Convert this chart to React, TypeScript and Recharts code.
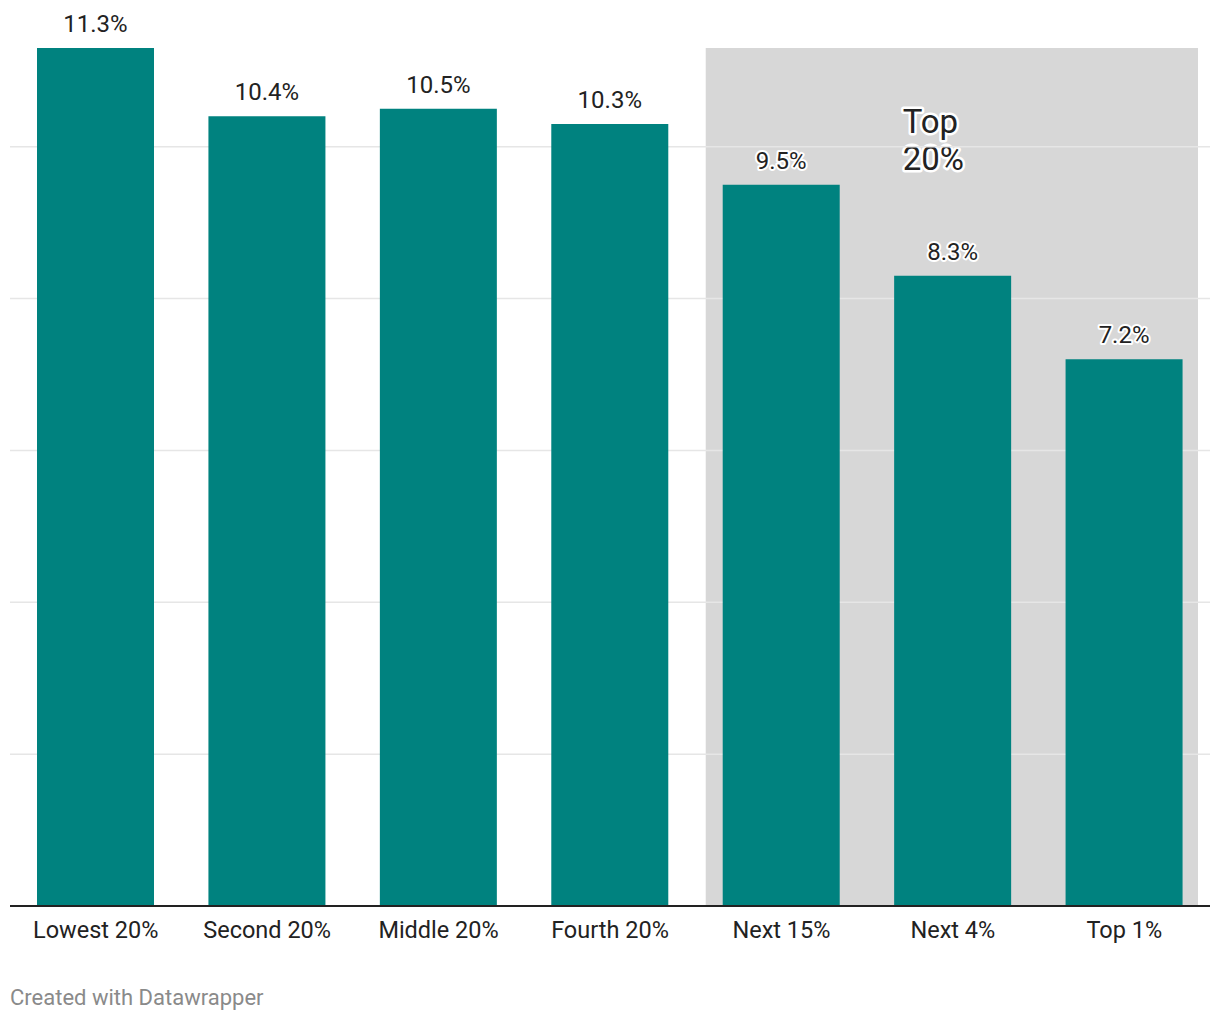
import React from 'react';
import {
  BarChart,
  Bar,
  XAxis,
  YAxis,
  CartesianGrid,
  ReferenceArea,
  LabelList
} from 'recharts';

// Share of income by group
const groups = ['Lowest 20%', 'Second 20%', 'Middle 20%', 'Fourth 20%', 'Next 15%', 'Next 4%', 'Top 1%'];
const shares = [11.3, 10.4, 10.5, 10.3, 9.5, 8.3, 7.2];
const gridValues = [2, 4, 6, 8, 10];
const topGroupStart = 'Next 15%';
const topGroupEnd = 'Top 1%';
const topGroupLabel = ['Top', '20%'];

const COLORS = {
  bar: '#00827f',
  shade: '#d7d7d7',
  grid: '#e6e6e6',
  text: '#222222',
  axis: '#222222',
  credit: '#8a8a8a'
};

const FONT = 'Roboto, "Noto Sans", sans-serif';

const data = groups.map((name, i) => ({ name, share: shares[i] }));

// value label with a white halo, like datawrapper does
const ValueLabel = (props: any) => {
  const { x, y, width, value } = props;
  return (
    <text
      x={x + width / 2}
      y={y - 16}
      textAnchor="middle"
      fontSize={24}
      fontFamily={FONT}
      fill={COLORS.text}
      stroke="#fff"
      strokeWidth={4}
      strokeLinejoin="round"
      style={{ paintOrder: 'stroke' }}
    >
      {Number(value).toFixed(1)}%
    </text>
  );
};

// shaded band behind the top 20% groups, plus its annotation
const ShadeShape = (props: any) => {
  const { x, y, width, height } = props;
  const left = x + 10;
  const w = width - 22;
  return (
    <g>
      <rect x={left} y={y} width={w} height={height} fill={COLORS.shade} />
      <text
        x={left + 197}
        y={y + 85}
        fontSize={33}
        fontFamily={FONT}
        fill={COLORS.text}
        stroke="#fff"
        strokeWidth={5}
        strokeLinejoin="round"
        style={{ paintOrder: 'stroke' }}
      >
        <tspan x={left + 197}>{topGroupLabel[0]}</tspan>
        <tspan x={left + 197} dy={37}>{topGroupLabel[1]}</tspan>
      </text>
    </g>
  );
};

export default function App() {
  return (
    <div style={{ position: 'absolute', left: 0, top: 0, width: 1220, height: 1020, background: '#fff', fontFamily: FONT }}>
      <BarChart
        width={1220}
        height={1020}
        data={data}
        margin={{ top: 48, right: 10, left: 10, bottom: 84 }}
      >
        <ReferenceArea
          x1={topGroupStart}
          x2={topGroupEnd}
          ifOverflow="visible"
          shape={<ShadeShape />}
          zIndex={-200}
        />
        <CartesianGrid
          vertical={false}
          horizontalValues={gridValues}
          stroke={COLORS.grid}
          strokeWidth={1.5}
          zIndex={-100}
        />
        <YAxis hide domain={[0, 11.3]} ticks={gridValues} />
        <XAxis
          dataKey="name"
          tickLine={false}
          axisLine={{ stroke: COLORS.axis, strokeWidth: 2 }}
          tick={{ fontSize: 23.5, fill: COLORS.text, fontFamily: FONT }}
          tickMargin={9}
          interval={0}
        />
        <Bar dataKey="share" fill={COLORS.bar} barSize={117} isAnimationActive={false}>
          <LabelList dataKey="share" content={<ValueLabel />} />
        </Bar>
      </BarChart>
      <div
        style={{
          position: 'absolute',
          left: 10,
          top: 985,
          fontSize: 22,
          color: COLORS.credit,
          fontFamily: FONT
        }}
      >
        Created with Datawrapper
      </div>
    </div>
  );
}
